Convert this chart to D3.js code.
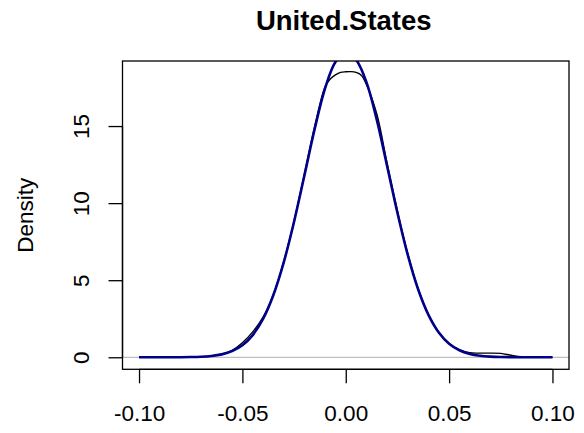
<!DOCTYPE html>
<html>
<head>
<meta charset="utf-8">
<script src="https://cdn.jsdelivr.net/npm/d3@7"></script>
<style>
  html, body { margin: 0; padding: 0; background: #fff; }
  svg { display: block; }
  text { font-family: "Liberation Sans", Arial, sans-serif; fill: #000; }
</style>
</head>
<body>
<svg id="chart" width="584" height="433"></svg>
<script>
// Daily returns: kernel density estimate and fitted normal density
const chartTitle = "United.States";
const yLabel = "Density";

const xTicks = [-0.10, -0.05, 0.00, 0.05, 0.10];
const xTickLabels = ["-0.10", "-0.05", "0.00", "0.05", "0.10"];
const yTicks = [0, 5, 10, 15];
const yTickLabels = ["0", "5", "10", "15"];

// kernel density estimate (black)
const kdeX = [-0.100, -0.095, -0.090, -0.085, -0.080, -0.075, -0.070, -0.065, -0.060, -0.055,
              -0.050, -0.045, -0.040, -0.035, -0.030, -0.025, -0.020, -0.015, -0.010, -0.0075,
              -0.005, -0.0025, 0.000, 0.0025, 0.005, 0.0075, 0.010, 0.015, 0.020, 0.025,
              0.030, 0.035, 0.040, 0.045, 0.050, 0.055, 0.060, 0.065, 0.070, 0.075,
              0.080, 0.085, 0.090, 0.095, 0.100];
const kdeY = [0.000, 0.000, 0.001, 0.003, 0.008, 0.018, 0.040, 0.092, 0.205, 0.450,
              0.940, 1.650, 2.600, 4.080, 6.200, 8.850, 11.900, 15.000, 17.550, 18.050,
              18.320, 18.480, 18.520, 18.530, 18.480, 18.300, 17.700, 15.800, 12.600, 9.500,
              6.720, 4.450, 2.770, 1.620, 0.890, 0.480, 0.290, 0.270, 0.270, 0.250,
              0.130, 0.030, 0.005, 0.001, 0.000];

// fitted normal density (blue)
const normX = [-0.100, -0.095, -0.090, -0.085, -0.080, -0.075, -0.070, -0.065, -0.060, -0.055,
               -0.050, -0.045, -0.040, -0.035, -0.030, -0.025, -0.020, -0.015, -0.010, -0.005,
               0.000, 0.005, 0.010, 0.015, 0.020, 0.025, 0.030, 0.035, 0.040, 0.045,
               0.050, 0.055, 0.060, 0.065, 0.070, 0.075, 0.080, 0.085, 0.090, 0.095, 0.100];
const normY = [0.0001, 0.0002, 0.0006, 0.0018, 0.0052, 0.014, 0.035, 0.085, 0.189, 0.396,
               0.779, 1.437, 2.487, 4.040, 6.154, 8.794, 11.79, 14.83, 17.45, 19.15,
               19.80, 19.30, 17.85, 15.41, 12.41, 9.372, 6.641, 4.415, 2.754, 1.612,
               0.885, 0.456, 0.220, 0.100, 0.043, 0.017, 0.006, 0.002, 0.0007, 0.0002, 0.0001];

const svg = d3.select("#chart");

const plot = { left: 122.5, right: 569, top: 61, bottom: 369.3 };

const x = d3.scaleLinear().domain([-0.108, 0.108]).range([plot.left, plot.right]);
const y = d3.scaleLinear().domain([-0.78, 19.22]).range([plot.bottom, plot.top]);

svg.append("defs").append("clipPath").attr("id", "plotClip")
  .append("rect")
  .attr("x", plot.left).attr("y", plot.top)
  .attr("width", plot.right - plot.left).attr("height", plot.bottom - plot.top);

const g = svg.append("g").attr("clip-path", "url(#plotClip)");

// zero reference line
g.append("line")
  .attr("x1", plot.left).attr("x2", plot.right)
  .attr("y1", y(0)).attr("y2", y(0))
  .attr("stroke", "#bebebe").attr("stroke-width", 1.2);

const line = d3.line()
  .x(d => x(d[0])).y(d => y(d[1]))
  .curve(d3.curveCatmullRom.alpha(0.5));

g.append("path")
  .datum(d3.zip(kdeX, kdeY))
  .attr("d", line)
  .attr("fill", "none").attr("stroke", "#000").attr("stroke-width", 1.4);

g.append("path")
  .datum(d3.zip(normX, normY))
  .attr("d", line)
  .attr("fill", "none").attr("stroke", "#00008b").attr("stroke-width", 2.6);

// frame
svg.append("rect")
  .attr("x", plot.left).attr("y", plot.top)
  .attr("width", plot.right - plot.left).attr("height", plot.bottom - plot.top)
  .attr("fill", "none").attr("stroke", "#000").attr("stroke-width", 1.3);

// x axis
const xAxis = d3.axisBottom(x)
  .tickValues(xTicks)
  .tickFormat((d, i) => xTickLabels[i])
  .tickSizeOuter(0).tickSizeInner(14).tickPadding(22);
const xg = svg.append("g").attr("transform", `translate(0,${plot.bottom})`).call(xAxis);
xg.select(".domain").attr("d", `M${x(xTicks[0])},0H${x(xTicks[xTicks.length - 1])}`)
  .attr("stroke", "#000").attr("stroke-width", 1.3);
xg.selectAll(".tick line").attr("stroke", "#000").attr("stroke-width", 1.3);
xg.selectAll(".tick text")
  .style("font-family", '"Liberation Sans", Arial, sans-serif')
  .style("font-size", "22.5px").attr("fill", "#000");

// y axis
const yAxis = d3.axisLeft(y)
  .tickValues(yTicks)
  .tickFormat((d, i) => yTickLabels[i])
  .tickSizeOuter(0).tickSizeInner(14);
const yg = svg.append("g").attr("transform", `translate(${plot.left},0)`).call(yAxis);
yg.select(".domain").attr("d", `M0,${y(yTicks[0])}V${y(yTicks[yTicks.length - 1])}`)
  .attr("stroke", "#000").attr("stroke-width", 1.3);
yg.selectAll(".tick line").attr("stroke", "#000").attr("stroke-width", 1.3);
yg.selectAll(".tick text")
  .attr("x", null).attr("dy", null)
  .attr("text-anchor", "middle")
  .attr("transform", "translate(-34,0) rotate(-90)")
  .style("font-family", '"Liberation Sans", Arial, sans-serif')
  .style("font-size", "22.5px").attr("fill", "#000");

// y label
svg.append("text")
  .attr("transform", `translate(33,${(plot.top + plot.bottom) / 2}) rotate(-90)`)
  .attr("text-anchor", "middle")
  .style("font-size", "22.5px")
  .text(yLabel);

// title
svg.append("text")
  .attr("x", (plot.left + plot.right) / 2 - 2).attr("y", 30)
  .attr("text-anchor", "middle")
  .style("font-size", "27.5px").style("font-weight", "bold")
  .text(chartTitle);
</script>
</body>
</html>
